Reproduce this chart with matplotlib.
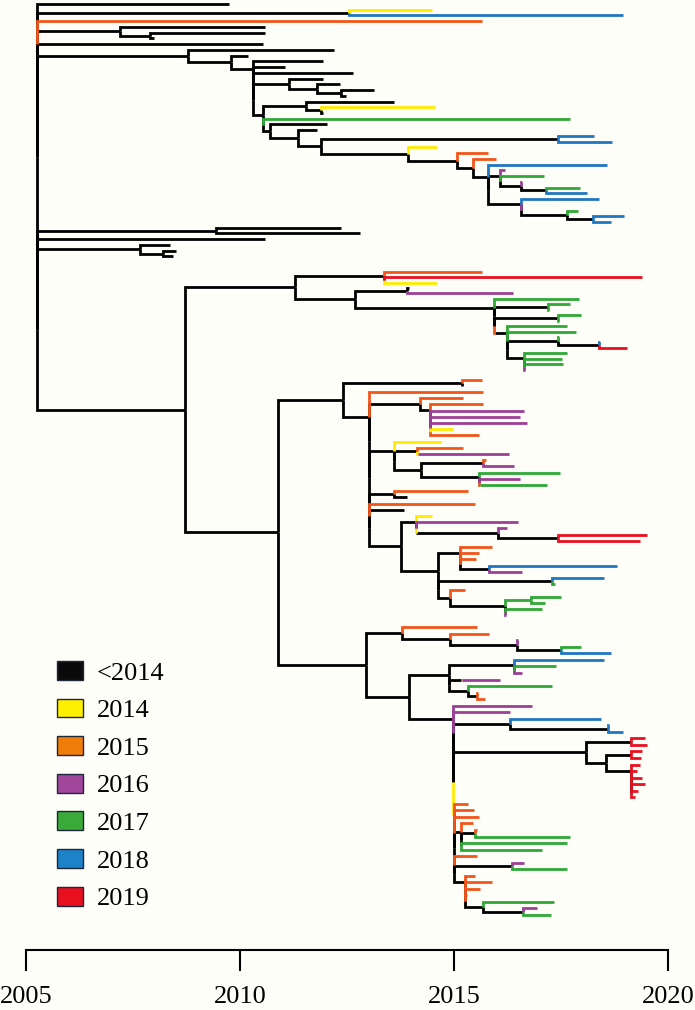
import re
import matplotlib
matplotlib.use("Agg")
import matplotlib.pyplot as plt
from matplotlib.collections import LineCollection
from matplotlib.patches import Patch

# tree clades, written as "(children)TIMEc" / "TIMEc"
# TIME = node date (year), c = sampling-year class of the branch
top_a = "2009.75k"
top_b = "(2014.5y,2018.95b)2012.54k"
top_c = "2015.65o"
top_d = "(2010.6k,(2010.6k,2008.0k)2007.9k)2007.2k"
top_e = "2010.55k"
top_f = """(2012.2k,(2010.2k,(2011.95k,2011.06k,2012.64k,
(2011.95k,(2012.35k,(2013.14k,2012.48k)2012.36k)2011.8k)2011.15k,
((2013.6k,(2014.57y,2011.95k)2011.9k)2011.55k,2017.7g,
(2012.04k,(2011.8k,((2018.27b,2018.7b)2017.44k,
(2014.6y,(2015.8o,(2015.98o,(2018.58b,
(2016.2p,2017.1g,(2016.6p,(2017.95g,2018.1b)2017.15k)2016.57k)2016.08k,
(2018.4b,2016.6p,(2017.9g,(2018.97b,2018.66b)2018.24k)2017.65k)2016.57k
)2015.8k)2015.45k)2015.07k)2013.93k
)2011.9k)2011.36k)2010.7k
)2010.55k
)2010.3k)2009.8k)2008.8k"""
top_g = "(2012.37k,2012.8k)2009.44k"
top_h = "2010.6k"
top_i = "(2008.37k,(2008.5k,2008.45k)2008.2k)2007.67k"

clade_up = """((2015.65o,2019.4r,2014.6y)2013.37k,
((2013.95k,2016.37p)2013.9k,
(2017.93g,(2017.7g,2017.22g)2017.2k,(2017.97g,2017.45g)2017.43k,
((2017.63g,2017.85g,(2017.45g,(2018.42b,2019.05r)2018.39k)2017.43k,
(2017.65g,2017.53g,2017.55g,2016.66p)2016.64k)2016.25k)2015.95o
)2015.94k)2012.7k)2011.3k"""

clade_d1 = """((2015.65o,2015.2k)2015.2k,
(2015.69o,
(2015.22o,(2015.69o,2016.63p,2016.55p,2016.7p,2014.97y,2015.58o)2014.45k)2014.2k,
(2014.7y,(2015.22o,(2016.28p)2014.16y)2014.14k,
((2015.75o,2016.4p)2015.69k,(2017.48g,2016.55p,(2017.18g)2015.62o)2015.58k)2014.23k)2013.6k,
(2015.34o,2013.9k)2013.6k,
2015.5o,
2013.84k,
((2014.49y,2016.5p,((2016.24p,(2019.5r,2019.34r)2017.42k)2016.04k)2014.12y)2014.11k,
((2015.9o,2015.58o,2015.51o,(2018.82b,2016.59p)2015.83k)2015.15k,
(2018.51b,2017.35g)2017.29k,
(2015.26o,((2017.5g,2017.12g)2016.8g,2017.06g,2016.22p)2016.2k)2014.91k)2014.62k
)2013.76k
)2013.02k)2012.4k"""

clade_d3 = """((2015.54o,(2015.81o,(2016.5p,(2017.97g,2018.67b)2017.5k)2016.48k)2014.91k)2013.78k,
(((2018.51b,2017.39g,2016.59p)2016.4k,((2016.08p)2015.2o)2015.16k,
(2017.29g,(2015.56o,2015.73o)2015.54k)2015.34k)2014.89k,
(2016.82p,2016.32p,(2018.44b,(2018.62b,2018.94b)2018.6k)2016.32k,
((2019.47r,2019.5r)2019.14k,((2019.39r,2019.37r)2019.14k,
(2019.35r,2019.28r,2019.4r,2019.47r,2019.3r,2019.22r)2019.14k)2018.56k)2018.08k,
(2015.34o,2015.46o,2015.59o,
(2015.45o,(2015.55o,2017.72g)2015.5k,2017.64g,2017.06g)2015.16k,
2015.54o,
(2016.63p,2017.64g)2016.35k,
(2015.5o,2015.9o,2015.6o,2015.3o,(2017.33g,(2016.95p,2017.26g)2016.61k)2015.67k)2015.26k
)2015.0y
)2014.97k)2013.96k)2012.94k"""

root_date = 2005.26
big_date = 2008.73
down_date = 2010.9

legend_labels = ["<2014", "2014", "2015", "2016", "2017", "2018", "2019"]
legend_colors = ["#0a0a0a", "#fff000", "#f07d0a", "#a0479b", "#3aaa3a", "#1e82c8", "#e8101e"]
line_colors = {"k": "#000000", "y": "#ffec00", "o": "#f2551a", "p": "#9c3f97",
               "g": "#2fa836", "b": "#1f77c1", "r": "#e9101f"}

# relative row spacing of the tips in each part of the tree (and gap before it)
row_step = {"top": 1.0, "up": 0.95, "d1": 1.08, "d3": 1.14}
row_gap = {"top": 0.0, "up": 1.7, "d1": 0.65, "d3": 0.97}


def parse(text, part):
    s = "".join(text.split())
    pos = 0

    def node():
        nonlocal pos
        kids = []
        if s[pos] == "(":
            pos += 1
            while True:
                kids.append(node())
                ch = s[pos]
                pos += 1
                if ch == ")":
                    break
        m = re.match(r"(\d+(?:\.\d+)?)([a-z])", s[pos:])
        pos += m.end()
        return {"t": float(m.group(1)), "c": m.group(2), "kids": kids, "part": part}

    return node()


top = [parse(t, "top") for t in [top_a, top_b, top_c, top_d, top_e, top_f,
                                 top_g, top_h, top_i]]
up = parse(clade_up, "up")
down = {"t": down_date, "c": "k", "part": "d1",
        "kids": [parse(clade_d1, "d1"), parse(clade_d3, "d3")]}
big = {"t": big_date, "c": "k", "part": "up", "kids": [up, down]}
root = {"t": root_date, "c": "k", "part": "top", "kids": top + [big]}

edges = []  # (points, class)
cursor = {"y": None, "part": None}


def next_row(part):
    if cursor["y"] is None:
        cursor["y"] = 0.0
    elif part != cursor["part"]:
        cursor["y"] += row_gap[part] + row_step[part]
    else:
        cursor["y"] += row_step[part]
    cursor["part"] = part
    return cursor["y"]


def layout(n):
    if not n["kids"]:
        n["y"] = next_row(n["part"])
        return
    for k in n["kids"]:
        layout(k)
    kids = n["kids"]
    m = len(kids)
    if m == 1:
        n["y"] = kids[0]["y"]
        edges.append(([(n["t"], n["y"]), (kids[0]["t"], kids[0]["y"])], kids[0]["c"]))
        return
    # polytomies drawn as ladders of zero-length splits
    lad = [0.0] * (m - 1)
    lad[-1] = (kids[-2]["y"] + kids[-1]["y"]) / 2
    for i in range(m - 3, -1, -1):
        lad[i] = (kids[i]["y"] + lad[i + 1]) / 2
    n["y"] = lad[0]
    x = n["t"]
    for i in range(m - 1):
        k = kids[i]
        edges.append(([(x, lad[i]), (x, k["y"]), (k["t"], k["y"])], k["c"]))
        if i < m - 2:
            edges.append(([(x, lad[i]), (x, lad[i + 1])], "k"))
    k = kids[-1]
    edges.append(([(x, lad[-1]), (x, k["y"]), (k["t"], k["y"])], k["c"]))


layout(root)
last_row = cursor["y"]

bg = "#fefef9"
fig = plt.figure(figsize=(6.95, 10.10), dpi=100, facecolor=bg)
# axes spans x 2005..2020 and the tree area down to the time axis
ax = fig.add_axes([25.7 / 695, 60 / 1010, (668 - 25.7) / 695, 950 / 1010])
ax.set_facecolor(bg)

for key in ["k", "y", "o", "p", "g", "b", "r"]:
    segs = [pts for pts, c in edges if c == key]
    lc = LineCollection(segs, colors=line_colors[key], linewidths=2.0,
                        capstyle="butt", joinstyle="miter")
    ax.add_collection(lc)

px_per_row = 911 / last_row
ax.set_xlim(2005, 2020)
ax.set_ylim((950 - 4) / px_per_row, -4 / px_per_row)

for side in ["top", "left", "right"]:
    ax.spines[side].set_visible(False)
ax.spines["bottom"].set_linewidth(1.5)
ax.set_yticks([])
ax.set_xticks([2005, 2010, 2015, 2020])
ax.tick_params(axis="x", direction="out", length=15, width=1.5, pad=11,
               labelsize=19)
for lab in ax.get_xticklabels():
    lab.set_family("Liberation Serif")

handles = [Patch(facecolor=c, edgecolor="#1c2838", linewidth=1.0) for c in legend_colors]
fig.legend(handles, legend_labels, loc="upper left",
           bbox_to_anchor=(57 / 695, 1 - 661 / 1010), frameon=False,
           prop={"family": "Liberation Serif", "size": 19},
           handlelength=1.0, handleheight=0.72, handletextpad=0.5,
           labelspacing=0.53, borderpad=0, borderaxespad=0)

fig.savefig("out.png", dpi=100, facecolor=bg)
